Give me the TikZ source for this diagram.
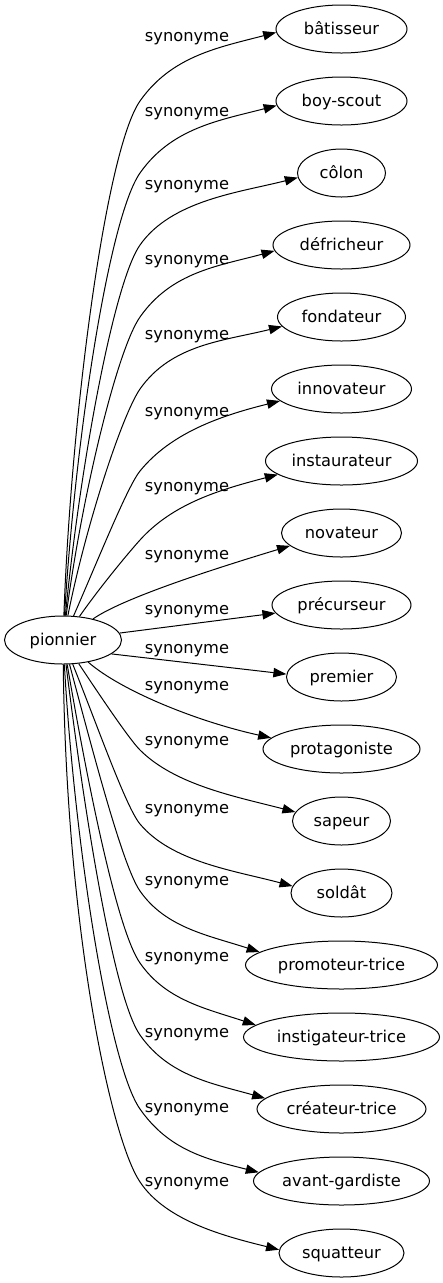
\documentclass[tikz,border=0pt]{standalone}
\usepackage{fontspec}
\setmainfont{DejaVu Sans}
\usetikzlibrary{shapes.geometric,arrows.meta}
\begin{document}
\begin{tikzpicture}[x=0.75pt,y=-0.75pt,
  txt/.style={font=\fontsize{12.2pt}{14.6pt}\selectfont, text height=11.3pt, text depth=2.9pt},
  word/.style={txt, ellipse, draw, line width=0.75pt, minimum height=36pt, inner sep=0pt},
  lab/.style={txt, inner sep=0pt},
  rel/.style={line width=0.75pt, -{Triangle[length=9.75pt,width=7pt]}}]
\useasboundingbox (0,0) rectangle (443,1283);
% nodes
\node[word, minimum width=87.75pt] (p) at (63,640) {pionnier};
\node[word, minimum width=98.25pt] (t1) at (341.5,29) {bâtisseur};
\node[word, minimum width=98.25pt] (t2) at (341.5,101) {boy-scout};
\node[word, minimum width=66pt] (t3) at (341.5,173) {côlon};
\node[word, minimum width=102.75pt] (t4) at (341.5,245) {défricheur};
\node[word, minimum width=96pt] (t5) at (341.5,317) {fondateur};
\node[word, minimum width=105pt] (t6) at (341.5,389) {innovateur};
\node[word, minimum width=114pt] (t7) at (341.5,461) {instaurateur};
\node[word, minimum width=90pt] (t8) at (341.5,533) {novateur};
\node[word, minimum width=104.25pt] (t9) at (341.5,605) {précurseur};
\node[word, minimum width=82.5pt] (t10) at (341.5,677) {premier};
\node[word, minimum width=117.75pt] (t11) at (341.5,749) {protagoniste};
\node[word, minimum width=73.5pt] (t12) at (341.5,821) {sapeur};
\node[word, minimum width=75.75pt] (t13) at (341.5,893) {soldât};
\node[word, minimum width=144pt] (t14) at (341.5,965) {promoteur-trice};
\node[word, minimum width=147pt] (t15) at (341.5,1037) {instigateur-trice};
\node[word, minimum width=126.75pt] (t16) at (341.5,1109) {créateur-trice};
\node[word, minimum width=132pt] (t17) at (341.5,1181) {avant-gardiste};
\node[word, minimum width=93.75pt] (t18) at (341.5,1253) {squatteur};
% labels
\node[lab] (l1) at (187,36) {synonyme};
\node[lab] (l2) at (187,110.7) {synonyme};
\node[lab] (l3) at (187,184) {synonyme};
\node[lab] (l4) at (187,259) {synonyme};
\node[lab] (l5) at (187,334) {synonyme};
\node[lab] (l6) at (187,410.7) {synonyme};
\node[lab] (l7) at (187,486) {synonyme};
\node[lab] (l8) at (187,554) {synonyme};
\node[lab] (l9) at (187,609) {synonyme};
\node[lab] (l10) at (187,648) {synonyme};
\node[lab] (l11) at (187,685) {synonyme};
\node[lab] (l12) at (187,740) {synonyme};
\node[lab] (l13) at (187,808) {synonyme};
\node[lab] (l14) at (187,880) {synonyme};
\node[lab] (l15) at (187,956) {synonyme};
\node[lab] (l16) at (187,1032) {synonyme};
\node[lab] (l17) at (187,1107) {synonyme};
\node[lab] (l18) at (187,1181) {synonyme};
% edges (upper)
\draw[rel] (p) .. controls (71,417) and (105.6,150.1) .. (140,101) .. controls (171.6,56) and (218.7,47.4) .. (t1.183.5);
\draw[rel] (p) .. controls (75.4,437.2) and (109,217.2) .. (140,173) .. controls (171.6,128) and (219.2,120.4) .. (t2.184.4);
\draw[rel] (p) .. controls (79.8,467.5) and (113.6,282.7) .. (140,245) .. controls (171.6,200) and (240.2,192.3) .. (t3.186.4);
\draw[rel] (p) .. controls (81.6,497) and (117,349.8) .. (140,317) .. controls (171.6,272) and (217.5,266.2) .. (t4.185.8);
\draw[rel] (p) .. controls (86.5,522.4) and (122.8,413.6) .. (140,389) .. controls (171.6,344) and (224.3,340.8) .. (t5.189);
\draw[rel] (p) .. controls (98.5,559) and (127.4,486.5) .. (140,471) .. controls (171.5,432.2) and (222.4,415.3) .. (t6.191);
\draw[rel] (p) .. controls (100.9,585.8) and (130,551) .. (140,540) .. controls (173.5,502.9) and (221.2,489.4) .. (t7.192.6);
\draw[rel] (p) .. controls (120,600) and (200,573) .. (t8.194);
\draw[rel] (p.7.3) -- (t9.187.5);
% edges (lower)
\draw[rel] (p.344) -- (t10.177);
\draw[rel] (p) .. controls (120,690) and (195,721) .. (t11.171);
\draw[rel] (p) .. controls (100.5,696.4) and (129.4,739.4) .. (140,750) .. controls (175.4,785.4) and (237.7,797) .. (t12.169.5);
\draw[rel] (p) .. controls (97.2,725.1) and (125.9,807.1) .. (140,824) .. controls (172.2,862.3) and (235.1,870.7) .. (t13.172);
\draw[rel] (p) .. controls (94.2,756.4) and (122.8,866.4) .. (140,891) .. controls (165.8,927.9) and (208.1,935.2) .. (t14.171);
\draw[rel] (p) .. controls (87.4,782.4) and (117,930.2) .. (140,963) .. controls (165.8,999.9) and (204.2,1008.1) .. (t15.172);
\draw[rel] (p) .. controls (84.3,812.9) and (113.6,997.3) .. (140,1035) .. controls (168.7,1076) and (212.3,1083.5) .. (t16.172.3);
\draw[rel] (p) .. controls (74.4,843.8) and (109,1064.8) .. (140,1109) .. controls (168.7,1150) and (206.1,1159.1) .. (t17.174);
\draw[rel] (p) .. controls (66,920) and (108,1125) .. (137,1177) .. controls (161.5,1220.6) and (226.1,1236.5) .. (t18.177);
\end{tikzpicture}
\end{document}
